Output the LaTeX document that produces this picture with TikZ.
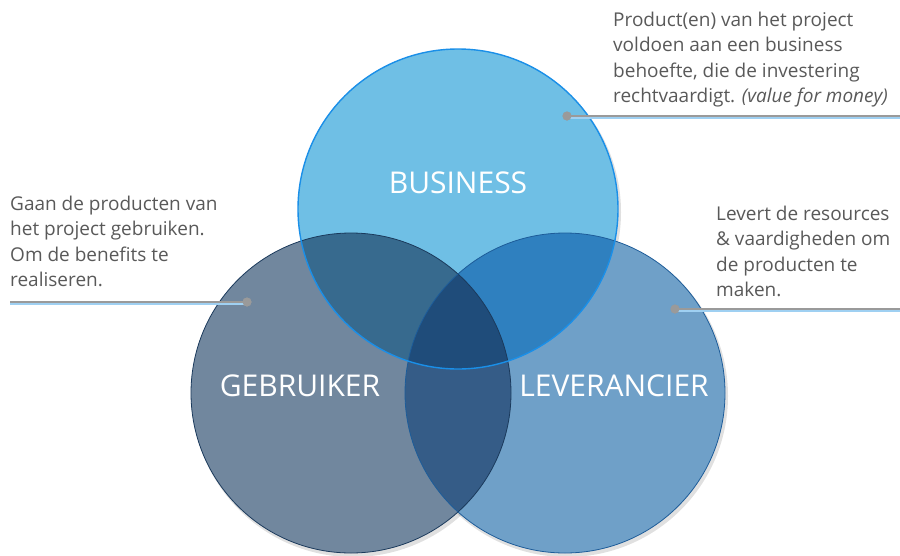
\documentclass[tikz,border=0pt]{standalone}
\usepackage{fontspec}
\setmainfont{Open Sans}
\usetikzlibrary{positioning}

\definecolor{busfill}{HTML}{6FBFE5}
\definecolor{busline}{HTML}{1A8FE8}
\definecolor{gebfill}{HTML}{71879E}
\definecolor{gebline}{HTML}{1B3A5C}
\definecolor{levfill}{HTML}{6FA0C8}
\definecolor{levline}{HTML}{1D5C99}
\definecolor{bgfill}{HTML}{376A8E}
\definecolor{blfill}{HTML}{2F80BF}
\definecolor{glfill}{HTML}{355C87}
\definecolor{allfill}{HTML}{1F4C7A}
\definecolor{tekstgrijs}{HTML}{595959}
\definecolor{lijngrijs}{HTML}{9A9A9A}
\definecolor{lijnblauw}{HTML}{9FD0F2}

\tikzset{
  kop/.style={text=white, font=\fontsize{30}{36}\selectfont},
  uitleg/.style={text=tekstgrijs, font=\fontsize{19}{25.3}\selectfont, align=left, inner sep=0pt, anchor=north west},
  lijn/.style={draw=lijngrijs, line width=2.5pt},
  onderlijn/.style={draw=lijnblauw, line width=1.3pt},
  stip/.style={circle, fill=lijngrijs, minimum size=9pt, inner sep=0pt},
}

\begin{document}
\begin{tikzpicture}[x=1pt, y=-1pt]
	\useasboundingbox (0,0) rectangle (900,555);

	\coordinate (bus) at (458,209);
	\coordinate (geb) at (351,393);
	\coordinate (lev) at (565,393);

	% schaduw
	\foreach \c in {bus,geb,lev}
		\fill[black, opacity=0.12] ([shift={(2,3)}]\c) circle (161pt);

	% cirkels
	\fill[gebfill] (geb) circle (160pt);
	\fill[levfill] (lev) circle (160pt);
	\fill[busfill] (bus) circle (160pt);

	% overlap
	\begin{scope}
		\clip (geb) circle (160pt);
		\fill[glfill] (lev) circle (160pt);
	\end{scope}
	\begin{scope}
		\clip (bus) circle (160pt);
		\fill[bgfill] (geb) circle (160pt);
		\fill[blfill] (lev) circle (160pt);
		\clip (geb) circle (160pt);
		\fill[allfill] (lev) circle (160pt);
	\end{scope}

	\draw[gebline, thick] (geb) circle (160pt);
	\draw[levline, thick] (lev) circle (160pt);
	\draw[busline, line width=1.4pt] (bus) circle (160pt);

	\node[kop] (lbus) at (458,183) {BUSINESS};
	\node[kop] (lgeb) at (300,386) {GEBRUIKER};
	\node[kop] (llev) at (614,386) {LEVERANCIER};

	% toelichting
	\node[uitleg] (tbus) at (613,12) {Product(en) van het project\\voldoen aan een business\\behoefte, die de investering\\rechtvaardigt. \textit{(value for money)}};
	\node[uitleg] (tgeb) at (10,196) {Gaan de producten van\\het project gebruiken.\\Om de benefits te\\realiseren.};
	\node[uitleg] (tlev) at (716,206) {Levert de resources\\\& vaardigheden om\\de producten te\\maken.};

	\node[stip] (dbus) at (567,116) {};
	\node[stip] (dgeb) at (247,302) {};
	\node[stip] (dlev) at (675,309) {};
	\coordinate (ebus) at (900,116);
	\coordinate (egeb) at (10,302);
	\coordinate (elev) at (900,309);

	\draw[onderlijn] ([yshift=-2pt]dbus.center) -- ([yshift=-2pt]ebus);
	\draw[onderlijn] ([yshift=-2pt]egeb) -- ([yshift=-2pt]dgeb.center);
	\draw[onderlijn] ([yshift=-2pt]dlev.center) -- ([yshift=-2pt]elev);
	\draw[lijn] (dbus.center) -- (ebus);
	\draw[lijn] (egeb) -- (dgeb.center);
	\draw[lijn] (dlev.center) -- (elev);
	\node[stip] at (dbus) {};
	\node[stip] at (dgeb) {};
	\node[stip] at (dlev) {};
\end{tikzpicture}
\end{document}
